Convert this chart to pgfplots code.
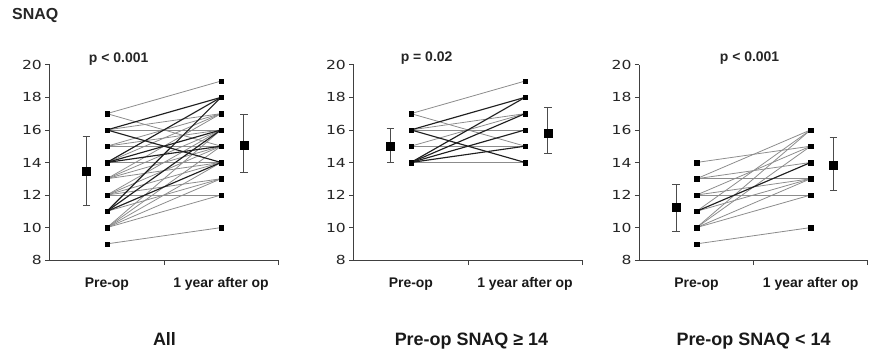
\documentclass[border=0pt]{standalone}
\usepackage{fontspec}
\setmainfont{Liberation Sans}
\newfontfamily\tickfont{DejaVu Sans}[FakeStretch=1.25]
\usepackage{pgfplots}
\pgfplotsset{compat=1.18}
\newcommand{\G}[2]{\addplot[gl] coordinates {(0,#1) (1,#2)};}
\newcommand{\B}[2]{\addplot[bl] coordinates {(0,#1) (1,#2)};}
\pgfplotsset{
  gl/.style={draw=black!45, line width=0.8bp, mark=square*, mark size=2.2bp,
    mark options={fill=black, draw=black, line width=0.3bp, solid}},
  bl/.style={draw=black!88, line width=1.15bp, mark=square*, mark size=2.2bp,
    mark options={fill=black, draw=black, line width=0.3bp, solid}},
  meanpt/.style={only marks, mark=square*, mark size=4bp, mark options={fill=black, draw=black},
    error bars/.cd, y dir=both, y explicit,
    error bar style={draw=black!70, line width=0.9bp},
    error mark=-,
    error mark options={rotate=90, draw=black!70, line width=0.9bp, mark size=3.8bp}},
  panel/.style={scale only axis, width=229bp, height=196bp,
    xmin=-0.5, xmax=1.5, ymin=8, ymax=20, clip=false,
    axis lines=left, axis line style={-, draw=black!75, line width=1bp},
    ytick={8,10,...,20}, tick align=outside, major tick length=4.5bp,
    ytick style={draw=black!75, line width=0.8bp},
    yticklabel style={font=\tickfont\fontsize{12.5bp}{14bp}\selectfont, text=black!85},
    /pgf/number format/assume math mode=true,
    xtick={0,1}, xticklabels={Pre-op,1 year after op},
    xtick style={draw=none},
    xticklabel style={font=\bfseries\fontsize{14bp}{16bp}\selectfont, text=black!90, anchor=base, yshift=-23bp},
    extra x ticks={0.5,1.5}, extra x tick labels={},
    extra x tick style={xtick style={draw=black!75, line width=0.8bp}, major tick length=5bp},
  }
}
\begin{document}
\begin{tikzpicture}[x=1bp,y=1bp]
\path (0,0) rectangle (871,352);
% ---------------- All ----------------
\begin{axis}[panel, at={(50bp,91bp)}, anchor=south west]
\G{17}{19} \G{17}{15} \G{16}{17} \G{16}{16} \G{15}{17} \G{15}{15} \G{15}{16}
\G{14}{14} \G{14}{17} \G{13}{16} \G{13}{14} \G{13}{15} \G{13}{17}
\G{12}{15} \G{12}{13} \G{12}{12} \G{12}{16} \G{12}{14}
\G{11}{13} \G{10}{16} \G{10}{15} \G{10}{13} \G{10}{12} \G{10}{14} \G{9}{10}
\B{16}{18} \B{16}{14} \B{14}{18} \B{14}{16} \B{14}{15} \B{11}{18} \B{11}{16} \B{11}{14}
\addplot[meanpt] coordinates {(-0.18,13.47) += (0,2.10) -= (0,2.08) (1.2,15.06) += (0,1.90) -= (0,1.69)};
\end{axis}
% ---------------- Pre-op SNAQ >= 14 ----------------
\begin{axis}[panel, at={(355bp,91bp)}, anchor=south west]
\G{17}{19} \G{17}{15} \G{16}{17} \G{16}{16} \G{15}{17} \G{15}{15} \G{14}{14}
\B{16}{18} \B{16}{14} \B{14}{18} \B{14}{17} \B{14}{16} \B{14}{15}
\addplot[meanpt] coordinates {(-0.18,15.0) += (0,1.11) -= (0,0.99) (1.2,15.82) += (0,1.53) -= (0,1.29)};
\end{axis}
% ---------------- Pre-op SNAQ < 14 ----------------
\begin{axis}[panel, at={(641.5bp,91bp)}, anchor=south west]
\G{14}{15} \G{13}{16} \G{13}{14} \G{13}{13} \G{12}{15} \G{12}{13} \G{12}{12}
\G{11}{13} \G{11}{16} \G{10}{16} \G{10}{15} \G{10}{13} \G{10}{12} \G{9}{10}
\B{11}{14}
\addplot[meanpt] coordinates {(-0.18,11.26) += (0,1.37) -= (0,1.47) (1.2,13.83) += (0,1.71) -= (0,1.55)};
\end{axis}
% ---------------- texts ----------------
\node[anchor=base west, inner sep=0, font=\bfseries\fontsize{16bp}{18bp}\selectfont, text=black!85] at (12,332) {SNAQ};
\node[anchor=base, inner sep=0, font=\bfseries\fontsize{14bp}{16bp}\selectfont, text=black!85] at (119,289) {p < 0.001};
\node[anchor=base, inner sep=0, font=\bfseries\fontsize{14bp}{16bp}\selectfont, text=black!85] at (428,290) {p = 0.02};
\node[anchor=base, inner sep=0, font=\bfseries\fontsize{14bp}{16bp}\selectfont, text=black!85] at (752,290) {p < 0.001};
\node[anchor=base, inner sep=0, font=\bfseries\fontsize{18bp}{20bp}\selectfont, text=black!90] at (165,5.5) {All};
\node[anchor=base, inner sep=0, font=\bfseries\fontsize{18bp}{20bp}\selectfont, text=black!90] at (473,5.5) {Pre-op SNAQ ≥ 14};
\node[anchor=base, inner sep=0, font=\bfseries\fontsize{18bp}{20bp}\selectfont, text=black!90] at (756,5.5) {Pre-op SNAQ < 14};
\end{tikzpicture}
\end{document}
